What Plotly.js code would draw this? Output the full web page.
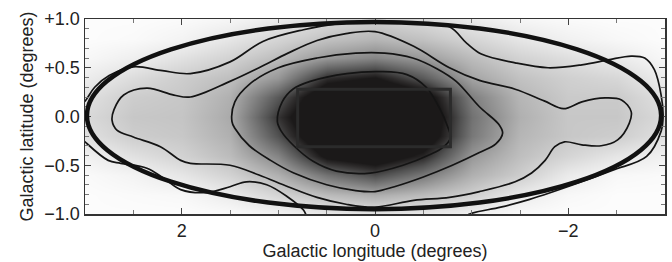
<!DOCTYPE html>
<html><head><meta charset="utf-8">
<script src="https://cdn.plot.ly/plotly-3.0.1.min.js"></script>
<style>html,body{margin:0;padding:0;background:#fff}#chart{width:672px;height:262px}</style>
</head><body><div id="chart"></div>
<script>
// ---- data ----
var gridX = [3, 2.5, 2, 1.5, 1, 0.5, 0, -0.5, -1, -1.5, -2, -2.5, -3];
var gridY = [1.0, 0.8, 0.6, 0.4, 0.2, 0.0, -0.2, -0.4, -0.6, -0.8, -1.0];
var intensity = [
  [0.00,0.00,0.01,0.03,0.08,0.15,0.19,0.15,0.08,0.03,0.01,0.00,0.00],
  [0.00,0.01,0.04,0.10,0.17,0.24,0.28,0.24,0.17,0.10,0.05,0.02,0.00],
  [0.02,0.06,0.12,0.18,0.26,0.38,0.44,0.37,0.26,0.18,0.13,0.08,0.02],
  [0.07,0.14,0.20,0.25,0.38,0.70,0.77,0.58,0.34,0.24,0.19,0.16,0.07],
  [0.12,0.20,0.22,0.30,0.58,0.92,0.98,0.86,0.46,0.28,0.21,0.21,0.12],
  [0.15,0.22,0.23,0.32,0.68,1.00,1.00,0.94,0.50,0.30,0.22,0.22,0.15],
  [0.12,0.20,0.22,0.30,0.60,0.96,1.00,0.90,0.48,0.28,0.22,0.20,0.12],
  [0.05,0.12,0.18,0.26,0.44,0.80,0.88,0.72,0.38,0.25,0.17,0.10,0.05],
  [0.01,0.04,0.10,0.18,0.30,0.50,0.62,0.48,0.30,0.20,0.08,0.02,0.01],
  [0.00,0.01,0.02,0.08,0.17,0.26,0.31,0.26,0.19,0.08,0.02,0.00,0.00],
  [0.00,0.00,0.00,0.01,0.04,0.09,0.11,0.09,0.05,0.01,0.00,0.00,0.00]
];
// contour paths (degrees)
var contourAx = [1.01, 0.96, 0.85, 0.67, 0.29, -0.05, -0.33, -0.53, -0.67, -0.75, -0.78, -0.70, -0.57, -0.29, 0.05, 0.40, 0.64, 0.84, 0.97, 1.01];
var contourAy = [-0.05, 0.15, 0.28, 0.36, 0.44, 0.46, 0.43, 0.30, 0.08, -0.10, -0.22, -0.32, -0.39, -0.50, -0.58, -0.56, -0.46, -0.30, -0.15, -0.05];
var contourBx = [1.48, 1.45, 1.30, 1.00, 0.60, 0.20, -0.10, -0.39, -0.64, -0.84, -1.08, -1.28, -1.32, -1.25, -1.08, -0.80, -0.50, -0.20, 0.00, 0.20, 0.50, 0.84, 1.08, 1.30, 1.45, 1.48];
var contourBy = [-0.05, 0.15, 0.33, 0.50, 0.60, 0.65, 0.65, 0.60, 0.49, 0.36, 0.10, -0.08, -0.17, -0.28, -0.37, -0.50, -0.62, -0.72, -0.77, -0.76, -0.70, -0.58, -0.45, -0.30, -0.12, -0.05];
var contourCx = [0.00, 0.30, 0.60, 0.90, 1.20, 1.50, 1.91, 2.08, 2.36, 2.60, 2.70, 2.72, 2.67, 2.50, 2.22, 2.01, 1.91, 1.50, 1.20, 0.90, 0.60, 0.30, 0.00, -0.40, -0.77, -1.08, -1.45, -1.62, -1.76, -1.86, -1.96, -2.14, -2.34, -2.51, -2.63, -2.65, -2.55, -2.38, -2.14, -1.95, -1.75, -1.45, -1.08, -0.77, -0.40, 0.00];
var contourCy = [0.87, 0.85, 0.78, 0.65, 0.50, 0.36, 0.20, 0.22, 0.29, 0.22, 0.07, -0.04, -0.14, -0.21, -0.31, -0.45, -0.48, -0.50, -0.60, -0.72, -0.83, -0.90, -0.93, -0.86, -0.83, -0.77, -0.67, -0.58, -0.45, -0.31, -0.26, -0.29, -0.30, -0.24, -0.07, 0.05, 0.17, 0.19, 0.15, 0.08, 0.16, 0.28, 0.37, 0.50, 0.72, 0.87];
var contourDlowX = [0.70, 0.74, 0.91, 1.12, 1.33, 1.50, 1.74, 2.01, 2.19, 2.36, 2.63, 2.76, 3.00, 3.06];
var contourDlowY = [-1.05, -0.96, -0.82, -0.70, -0.67, -0.72, -0.78, -0.75, -0.63, -0.53, -0.48, -0.45, -0.26, -0.20];
var contourDx = [3.06, 2.99, 2.90, 2.75, 2.50, 2.20, 1.91, 1.50, 1.16, 0.74, 0.40, 0.00, -0.40, -0.77, -0.95, -1.10, -1.45, -1.79, -2.14, -2.41, -2.65, -2.79, -2.89, -2.96, -2.98, -2.96, -2.81, -2.46, -2.08, -1.60, -1.30, -0.98, -0.90];
var contourDy = [0.10, 0.17, 0.30, 0.42, 0.51, 0.47, 0.44, 0.56, 0.77, 0.89, 0.95, 0.98, 0.96, 0.92, 0.75, 0.64, 0.55, 0.50, 0.53, 0.58, 0.62, 0.60, 0.48, 0.22, 0.00, -0.15, -0.41, -0.55, -0.69, -0.85, -0.93, -1.00, -1.05];
var ellipseX = [-2.96, 2.98];
var ellipseY = [-0.95, 0.97];
var boxX = [-0.78, 0.80];
var boxY = [-0.31, 0.28];
var xTickVals = [2, 0, -2];
var xTickText = ['2', '0', '\u22122'];
var yTickVals = [1, 0.5, 0, -0.5, -1];
var yTickText = ['+1.0', '+0.5', '0.0', '\u22120.5', '\u22121.0'];

// ---- traces ----
var lineStyle = {color: '#141414', width: 1.7, shape: 'spline', smoothing: 1};
function contourTrace(xs, ys) {
  return {type: 'scatter', mode: 'lines', x: xs, y: ys, line: lineStyle, hoverinfo: 'skip', showlegend: false};
}
var traces = [
  {type: 'heatmap', x: gridX, y: gridY, z: intensity, zmin: 0, zmax: 1, zsmooth: 'best', showscale: false, hoverinfo: 'skip',
   colorscale: [[0,'#fcfcfc'],[0.1,'#e6e6e6'],[0.2,'#cdcdcd'],[0.3,'#b0b0b0'],[0.4,'#919191'],[0.5,'#727272'],[0.6,'#525252'],[0.7,'#2e2c2c'],[0.76,'#1b1919'],[1,'#1b1919']]},
  contourTrace(contourAx, contourAy),
  contourTrace(contourBx, contourBy),
  contourTrace(contourCx, contourCy),
  contourTrace(contourDlowX, contourDlowY),
  contourTrace(contourDx, contourDy)
];

var fam = '"Liberation Sans", Arial, Helvetica, sans-serif';
var layout = {
  width: 672, height: 262,
  margin: {l: 85, r: 7, t: 19, b: 48},
  paper_bgcolor: '#ffffff', plot_bgcolor: '#ffffff',
  font: {family: fam, size: 18, color: '#222'},
  showlegend: false,
  xaxis: {
    range: [3, -3], tickmode: 'array', tickvals: xTickVals, ticktext: xTickText,
    ticks: 'inside', ticklen: 6, tickwidth: 1, tickcolor: '#444',
    minor: {tickmode: 'linear', tick0: 0, dtick: 0.5, ticks: 'inside', ticklen: 4, tickcolor: '#777', showgrid: false},
    mirror: 'allticks', showline: true, linecolor: '#333', linewidth: 1.5,
    showgrid: false, zeroline: false,
    title: {text: 'Galactic longitude (degrees)', font: {family: fam, size: 18, color: '#222'}, standoff: 2}
  },
  yaxis: {
    range: [-1, 1], tickmode: 'array', tickvals: yTickVals, ticktext: yTickText,
    ticks: 'inside', ticklen: 6, tickwidth: 1, tickcolor: '#444',
    minor: {tickmode: 'linear', tick0: 0, dtick: 0.1, ticks: 'inside', ticklen: 4, tickcolor: '#777', showgrid: false},
    mirror: 'allticks', showline: true, linecolor: '#333', linewidth: 1.5,
    showgrid: false, zeroline: false,
    title: {text: 'Galactic latitude (degrees)', font: {family: fam, size: 18, color: '#222'}, standoff: 6}
  },
  shapes: [
    {type: 'circle', xref: 'x', yref: 'y', x0: ellipseX[0], x1: ellipseX[1], y0: ellipseY[0], y1: ellipseY[1],
     line: {color: '#111', width: 4.5}},
    {type: 'rect', xref: 'x', yref: 'y', x0: boxX[0], x1: boxX[1], y0: boxY[0], y1: boxY[1],
     line: {color: '#2b2b2b', width: 3}}
  ]
};
Plotly.newPlot('chart', traces, layout, {staticPlot: true, displayModeBar: false});
</script>
</body></html>
